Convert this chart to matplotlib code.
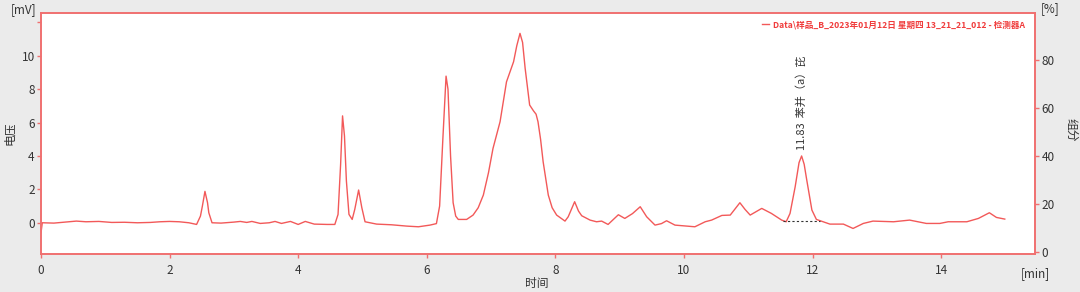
import matplotlib
matplotlib.use("Agg")
import matplotlib.pyplot as plt

plt.rcParams['font.family'] = ['Noto Sans CJK SC', 'DejaVu Sans']

# chromatogram trace (min, mV)
time_min = [0.0, 0.02, 0.2, 0.4, 0.55, 0.7, 0.9, 1.1, 1.3, 1.5, 1.7, 1.85, 2.0, 2.15, 2.3,
            2.42, 2.48, 2.51, 2.55, 2.59, 2.61, 2.66, 2.8, 3.0, 3.1, 3.2, 3.28, 3.41, 3.55,
            3.64, 3.74, 3.88, 4.0, 4.11, 4.25, 4.45, 4.57, 4.62, 4.66, 4.69, 4.72, 4.75,
            4.79, 4.84, 4.88, 4.94, 4.99, 5.04, 5.22, 5.45, 5.69, 5.87, 6.05, 6.15, 6.2,
            6.25, 6.30, 6.33, 6.37, 6.41, 6.45, 6.49, 6.62, 6.72, 6.80, 6.88, 6.96, 7.03,
            7.14, 7.24, 7.35, 7.40, 7.45, 7.49, 7.53, 7.60, 7.66, 7.70, 7.73, 7.77, 7.81,
            7.89, 7.95, 8.02, 8.15, 8.20, 8.30, 8.36, 8.41, 8.54, 8.64, 8.72, 8.82, 8.98,
            9.08, 9.20, 9.32, 9.42, 9.55, 9.65, 9.73, 9.86, 10.04, 10.17, 10.33, 10.43,
            10.59, 10.72, 10.87, 10.95, 11.03, 11.21, 11.36, 11.52, 11.59, 11.65, 11.73,
            11.79, 11.83, 11.87, 11.91, 11.99, 12.06, 12.27, 12.48, 12.63, 12.79, 12.94,
            13.26, 13.51, 13.77, 13.98, 14.11, 14.40, 14.58, 14.75, 14.86, 14.99]
signal_mv = [-0.6, 0.0, -0.02, 0.05, 0.1, 0.06, 0.08, 0.02, 0.03, 0.0, 0.02, 0.06, 0.08, 0.06, 0.0,
             -0.1, 0.4, 1.0, 1.88, 1.2, 0.6, 0.0, -0.02, 0.04, 0.08, 0.02, 0.08, -0.04, 0.0,
             0.08, -0.04, 0.08, -0.1, 0.08, -0.08, -0.1, -0.1, 0.5, 3.5, 6.4, 5.2, 2.5,
             0.5, 0.2, 0.8, 1.96, 0.9, 0.06, -0.08, -0.12, -0.2, -0.24, -0.14, -0.05, 1.0,
             5.0, 8.78, 8.0, 4.0, 1.2, 0.4, 0.2, 0.2, 0.46, 0.9, 1.66, 3.0, 4.45,
             6.05, 8.44, 9.64, 10.6, 11.34, 10.8, 9.25, 7.05, 6.7, 6.5, 6.05, 5.0, 3.65,
             1.66, 0.9, 0.46, 0.1, 0.36, 1.26, 0.7, 0.42, 0.16, 0.06, 0.1, -0.1, 0.48,
             0.26, 0.55, 0.96, 0.36, -0.14, -0.05, 0.12, -0.14, -0.2, -0.24, 0.06, 0.16,
             0.44, 0.46, 1.2, 0.8, 0.46, 0.86, 0.56, 0.16, 0.06, 0.56, 2.16,
             3.6, 4.0, 3.5, 2.56, 0.76, 0.2, -0.08, -0.08, -0.34, -0.04, 0.1,
             0.06, 0.16, -0.04, -0.04, 0.06, 0.06, 0.26, 0.6, 0.32, 0.22]

# integrated peak
peak_time = 11.83
peak_height = 4.0
peak_name = "苯并（a）芘"
baseline_start = 11.54
baseline_end = 12.11
baseline_level = 0.1

legend_label = "Data\\样品_B_2023年01月12日 星期四 13_21_21_012 - 检测器A"
left_ticks = [0, 2, 4, 6, 8, 10, 12]
left_tick_labels = ["0", "2", "4", "6", "8", "10", ""]
right_ticks = [0, 20, 40, 60, 80]
x_ticks = [0, 2, 4, 6, 8, 10, 12, 14]

red = '#f03c3c'
spine_red = '#f07070'
txt = '#333333'
bg = '#ebebeb'

fig = plt.figure(figsize=(10.8, 2.92), dpi=100, facecolor=bg)
ax = fig.add_axes([41 / 1080, 38 / 292, 994 / 1080, 241 / 292])
ax.set_facecolor('white')

line, = ax.plot(time_min, signal_mv, color=red, linewidth=1.0, alpha=0.85)
ax.plot([baseline_start, baseline_end], [baseline_level, baseline_level],
        color='#333333', linestyle=(0, (2, 2)), linewidth=0.8)

ax.annotate(f"{peak_time:.2f}  {peak_name}", (peak_time, peak_height),
            xytext=(0, 4), textcoords='offset points', rotation=90,
            ha='center', va='bottom', fontsize=8, color=txt)

ax.set_xlim(0, 15.46)
ax.set_ylim(-1.87, 12.56)
ax.set_xticks(x_ticks)
ax.set_yticks(left_ticks)
ax.set_yticklabels(left_tick_labels)

ax2 = ax.twinx()
ax2.set_ylim(-0.7, 99.5)
ax2.set_yticks(right_ticks)

for a in (ax, ax2):
    for s in a.spines.values():
        s.set_color(spine_red)
        s.set_linewidth(1.2)
    a.tick_params(colors=spine_red, labelcolor=txt, labelsize=8.5, length=3, width=1, pad=1.5)
ax.tick_params(axis='x', pad=4)

ax.legend([line], [legend_label], loc='upper right', bbox_to_anchor=(0.993, 0.985),
          frameon=False, handlelength=0.8, handletextpad=0.4, borderaxespad=0,
          prop={'size': 6.2, 'weight': 'bold'}, labelcolor=red)

fig.text(24 / 1080, 1 - 10 / 292, "[mV]", ha='center', va='center', fontsize=8.5, color=txt)
fig.text(1050 / 1080, 1 - 9 / 292, "[%]", ha='center', va='center', fontsize=8.5, color=txt)
fig.text(1035 / 1080, 1 - 274 / 292, "[min]", ha='center', va='center', fontsize=8.5, color=txt)
fig.text(537 / 1080, 1 - 283 / 292, "时间", ha='center', va='center', fontsize=8.5, color=txt)
fig.text(10 / 1080, 1 - 133 / 292, "电压", ha='center', va='center', rotation=90,
         fontsize=8.5, color=txt)
fig.text(1071 / 1080, 1 - 130 / 292, "组分", ha='center', va='center', rotation=270,
         fontsize=8.5, color=txt)

fig.savefig("out.png", dpi=100, facecolor=bg)
